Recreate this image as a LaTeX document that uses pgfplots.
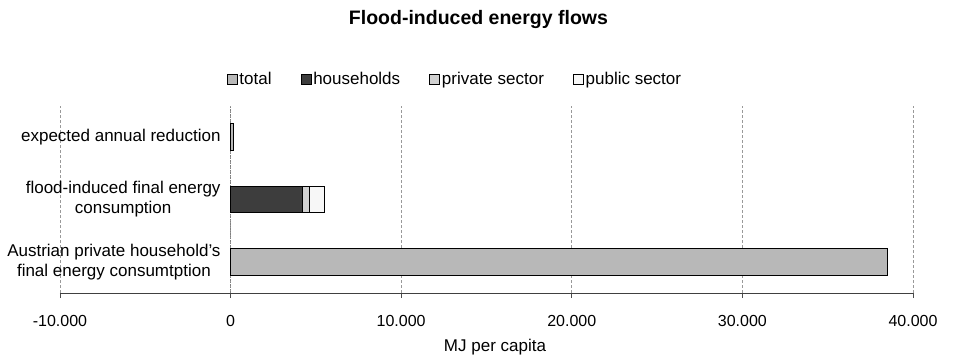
\documentclass[border=0pt]{standalone}
\usepackage{pgfplots}
\pgfplotsset{compat=1.18}
\usepackage{fontspec}
\setmainfont{Liberation Sans}

\definecolor{totalfill}{gray}{0.72}
\definecolor{hhfill}{gray}{0.24}
\definecolor{privfill}{gray}{0.82}
\definecolor{pubfill}{gray}{0.97}

\begin{document}
\begin{tikzpicture}
\begin{axis}[
  scale only axis,
  width=853pt, height=187pt,
  xmin=-10000, xmax=40000,
  ymin=-0.5, ymax=2.5,
  xbar stacked,
  bar width=0.43,
  axis x line*=bottom,
  axis y line*=center,
  x axis line style={black!75, line width=0.9pt},
  y axis line style={gray, densely dotted, line width=0.7pt},
  xtick={-10000,0,10000,20000,30000,40000},
  scaled x ticks=false,
  xticklabel style={font=\fontsize{16}{18}\selectfont, yshift=-16pt},
  /pgf/number format/.cd, 1000 sep={.}, assume math mode=true,
  /pgfplots/.cd,
  tick align=center,
  major tick length=5pt,
  xtick style={black!70, line width=0.7pt, yshift=-2.5pt},
  xmajorgrids,
  grid style={gray!80, densely dashed, line width=0.6pt},
  ytick={0,1,2},
  yticklabels={{Austrian private household's\\final energy consumtption},
               {flood-induced final energy\\consumption},
               {expected annual reduction}},
  yticklabel style={align=center, font=\fontsize{17}{20}\selectfont, xshift=-4pt},
  ytick style={draw=none},
  minor ytick={-0.5,0.5,1.5,2.5},
  minor tick length=4pt,
  minor y tick style={black!70, line width=0.6pt, xshift=2pt},
  xlabel={MJ per capita},
  xlabel style={at={(rel axis cs:0.51,-0.288)}, anchor=center, font=\fontsize{17}{20}\selectfont},
  title={Flood-induced energy flows},
  every axis title/.style={at={(rel axis cs:0.4906,1.46)}, anchor=center,
               font=\fontsize{19.5}{22}\selectfont\bfseries},
  legend style={at={(rel axis cs:0.463,1.144)}, anchor=center, draw=none,
                font=\fontsize{17}{20}\selectfont, legend columns=4,
                /tikz/every even column/.append style={column sep=27pt}},
  legend image code/.code={\draw[#1, line width=0.7pt] (0pt,-5pt) rectangle (10pt,5pt);},
  every axis plot/.append style={draw=black, line width=0.9pt},
  clip=false,
]
% total consumption and expected reduction
\addplot[fill=totalfill] coordinates {(38500,0) (0,1) (180,2)};
% flood-induced consumption, split by sector
\addplot[fill=hhfill] coordinates {(0,0) (4200,1) (0,2)};
\addplot[fill=privfill] coordinates {(0,0) (450,1) (0,2)};
\addplot[fill=pubfill] coordinates {(0,0) (850,1) (0,2)};
\legend{total, households, private sector, public sector}
\coordinate (bbl) at (rel axis cs:-0.0703,-0.3369);
\coordinate (btr) at (rel axis cs:1.0481,1.5668);
\end{axis}
\pgfresetboundingbox
\path[use as bounding box] (bbl) rectangle (btr);
\end{tikzpicture}
\end{document}
